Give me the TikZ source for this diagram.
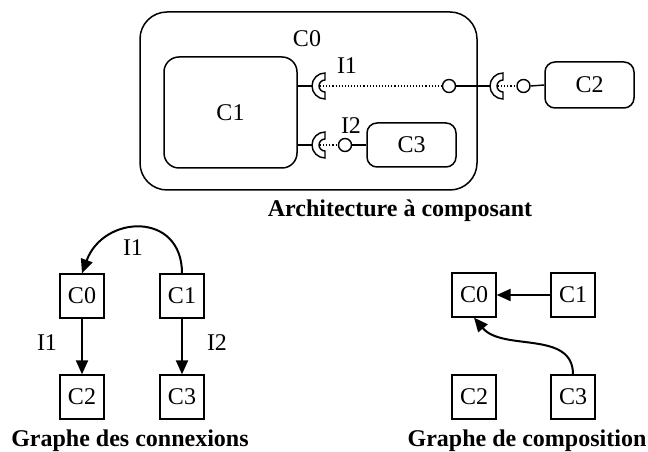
\documentclass[tikz,border=0pt]{standalone}
\usepackage{fontspec}
\setmainfont{Liberation Serif}
\usepackage{tikz}
\usetikzlibrary{arrows.meta,positioning}
\tikzset{
  comp/.style={draw, line width=1.5pt, rounded corners=#1, inner sep=0pt},
  gbox/.style={draw, line width=1.3pt, minimum size=44pt, inner sep=0pt},
  ball/.style={circle, draw, line width=1.4pt, fill=white, minimum size=13pt, inner sep=0pt},
  sock/.style={draw, line width=1.4pt, fill=white},
  lbl/.style={font=\fontsize{24}{28}\selectfont},
  captext/.style={font=\fontsize{24}{28}\selectfont\bfseries, anchor=base},
  garrow/.style={-{Triangle[length=14pt,width=12pt]}, line width=2pt},
}
\begin{document}
\begin{tikzpicture}[x=1pt, y=1pt, every node/.append style={lbl}]
\useasboundingbox (0,0) rectangle (648,452);
% Architecture a composant
\node[comp=27pt, minimum width=337pt, minimum height=178pt] (c0) at (308.5,351) {};
\node (c0lbl) at (307,413.5) {C0};
\node[comp=15pt, minimum width=133pt, minimum height=111pt] (c1) at (230.5,339.5) {C1};
\node[comp=10pt, minimum width=89pt, minimum height=46pt] (c2) at (589.5,367) {C2};
\node[comp=10pt, minimum width=89pt, minimum height=44pt] (c3) at (411.5,307) {C3};

% I1 : C1 -> C2
\coordinate (s1) at (325,366);
\coordinate (s2) at (503,366);
\node[ball] (b1) at (449,366) {};
\node[ball] (b2) at (523.5,366) {};
\draw[line width=1.4pt] (c1.east |- s1) -- ([xshift=-13pt]s1);
\draw[sock] ([yshift=13pt]s1) arc[start angle=90, end angle=270, radius=13pt]
  -- ++(0,7pt) arc[start angle=270, end angle=90, radius=6pt] -- cycle;
\draw[line width=1.1pt, dotted] ([xshift=-5pt]s1) -- (b1.west);
\draw[line width=1.4pt] (b1.east) -- ([xshift=-13pt]s2);
\draw[sock] ([yshift=13pt]s2) arc[start angle=90, end angle=270, radius=13pt]
  -- ++(0,7pt) arc[start angle=270, end angle=90, radius=6pt] -- cycle;
\draw[line width=1.1pt, dotted] ([xshift=-5pt]s2) -- (b2.west);
\draw[line width=1.4pt] (b2.east) -- (c2.west);
\node (i1) at (347,386.5) {I1};

% I2 : C1 -> C3
\coordinate (s3) at (325,307);
\node[ball] (b3) at (345,307) {};
\draw[line width=1.4pt] (c1.east |- s3) -- ([xshift=-13pt]s3);
\draw[sock] ([yshift=13pt]s3) arc[start angle=90, end angle=270, radius=13pt]
  -- ++(0,7pt) arc[start angle=270, end angle=90, radius=6pt] -- cycle;
\draw[line width=1.1pt, dotted] ([xshift=-5pt]s3) -- (b3.west);
\draw[line width=1.4pt] (b3.east) -- (c3.west);
\node (i2) at (351,326) {I2};

\node[captext] (capa) at (400,235) {Architecture à composant};

% Graphe des connexions
\node[gbox] (g0) at (82,156) {C0};
\node[gbox] (g1) at (182,156) {C1};
\node[gbox] (g2) at (82,55) {C2};
\node[gbox] (g3) at (182,55) {C3};
\draw[garrow] (g1.north) to[out=90, in=70, looseness=1.6] (g0.north);
\draw[garrow] (g0) -- (g2);
\draw[garrow] (g1) -- (g3);
\node (gi1) at (133,204) {I1};
\node (gi2) at (47,109) {I1};
\node (gi3) at (217,109) {I2};
\node[captext] (capg) at (130,5) {Graphe des connexions};

% Graphe de composition
\node[gbox] (k0) at (474,157) {C0};
\node[gbox] (k1) at (573,157) {C1};
\node[gbox] (k2) at (474,55) {C2};
\node[gbox] (k3) at (573,55) {C3};
\draw[garrow] (k1) -- (k0);
\draw[garrow] (k3.north) to[out=90, in=-50] (k0.south);
\node[captext] (capk) at (527,5) {Graphe de composition};
\end{tikzpicture}
\end{document}
